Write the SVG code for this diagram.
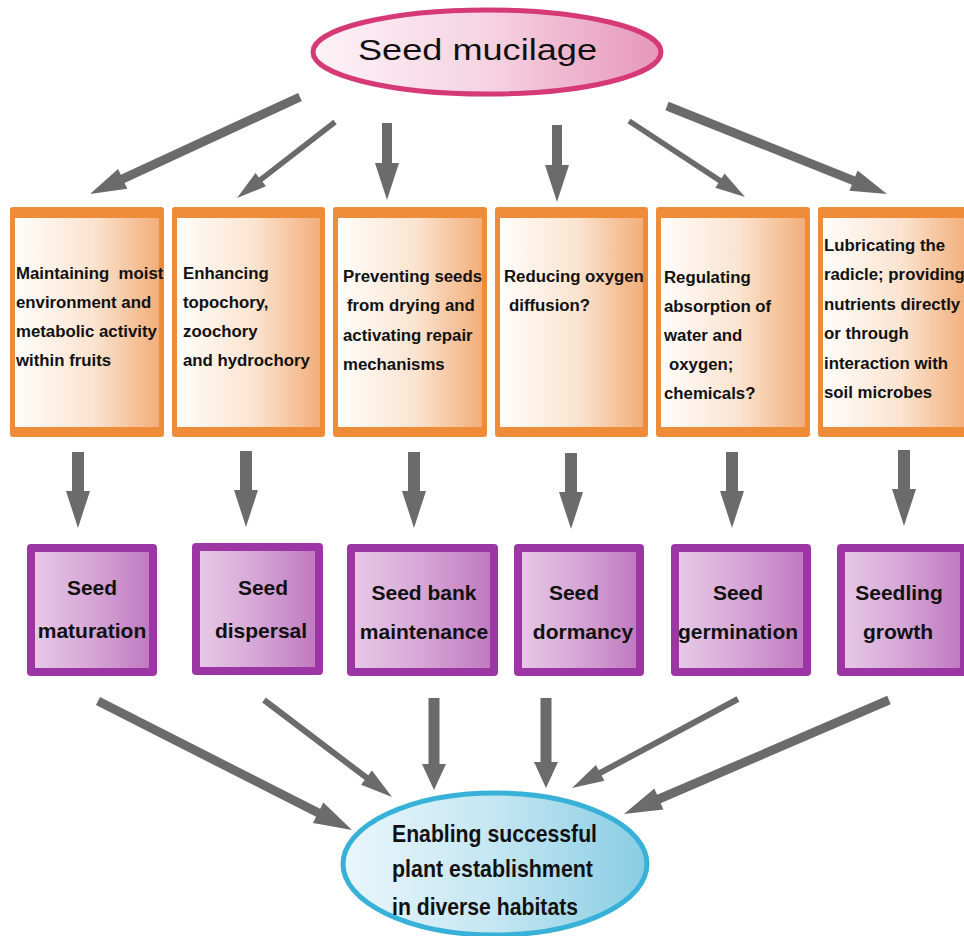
<svg xmlns="http://www.w3.org/2000/svg" width="964" height="936" viewBox="0 0 964 936">
<defs>
<linearGradient id="gPink" x1="0" y1="0" x2="1" y2="0">
<stop offset="0" stop-color="#fdf3f7"/><stop offset="0.5" stop-color="#f6d3e2"/><stop offset="1" stop-color="#e697ba"/>
</linearGradient>
<linearGradient id="gOrange" x1="0" y1="0" x2="1" y2="0">
<stop offset="0" stop-color="#fffdfb"/><stop offset="0.55" stop-color="#fbe3cf"/><stop offset="1" stop-color="#f2ae7a"/>
</linearGradient>
<linearGradient id="gPurple" x1="0" y1="0" x2="1" y2="0">
<stop offset="0" stop-color="#e6c8e6"/><stop offset="0.5" stop-color="#d6a6d6"/><stop offset="1" stop-color="#c07ac0"/>
</linearGradient>
<linearGradient id="gBlue" x1="0" y1="0" x2="1" y2="0">
<stop offset="0" stop-color="#eaf6fb"/><stop offset="0.5" stop-color="#c4e6f2"/><stop offset="1" stop-color="#89cde3"/>
</linearGradient>
</defs>
<style>
.ob{fill:#ee8c3a}
.oi{fill:url(#gOrange)}
.pb{fill:#9c36a4}
.pi{fill:url(#gPurple)}
.ot{font-family:"Liberation Sans",Arial,sans-serif;font-weight:bold;font-size:16.8px;fill:#111;white-space:pre}
.pt{font-family:"Liberation Sans",Arial,sans-serif;font-weight:bold;font-size:21px;fill:#111;text-anchor:middle}
.ar{fill:#6b6b6b}
</style>
<rect width="964" height="936" fill="#ffffff"/>

<g id="connectors">
<path class="ar" d="M0,-4.5 H195.3 V-11 L231.3,0 L195.3,11 V4.5 H0 Z" transform="translate(300,97) rotate(155.21)"/>
<path class="ar" d="M0,-2.8 H94 V-8.5 L124,0 L94,8.5 V2.8 H0 Z" transform="translate(335,122) rotate(142.2)"/>
<path class="ar" d="M0,-5 H40 V-12 L77,0 L40,12 V5 H0 Z" transform="translate(387,123) rotate(90)"/>
<path class="ar" d="M0,-5 H40 V-12 L77,0 L40,12 V5 H0 Z" transform="translate(557,125) rotate(90)"/>
<path class="ar" d="M0,-2.8 H108.7 V-8.5 L138.7,0 L108.7,8.5 V2.8 H0 Z" transform="translate(629,121) rotate(33.23)"/>
<path class="ar" d="M0,-4.5 H200.9 V-11 L236.9,0 L200.9,11 V4.5 H0 Z" transform="translate(667,106) rotate(21.8)"/>

<path class="ar" d="M0,-6 H39 V-12 L76,0 L39,12 V6 H0 Z" transform="translate(78,452) rotate(90)"/>
<path class="ar" d="M0,-6 H39 V-12 L76,0 L39,12 V6 H0 Z" transform="translate(246,451) rotate(90)"/>
<path class="ar" d="M0,-6 H39 V-12 L76,0 L39,12 V6 H0 Z" transform="translate(414,452) rotate(90)"/>
<path class="ar" d="M0,-6 H39 V-12 L76,0 L39,12 V6 H0 Z" transform="translate(571,453) rotate(90)"/>
<path class="ar" d="M0,-6 H39 V-12 L76,0 L39,12 V6 H0 Z" transform="translate(732,452) rotate(90)"/>
<path class="ar" d="M0,-6 H39 V-12 L76,0 L39,12 V6 H0 Z" transform="translate(904,450) rotate(90)"/>

<path class="ar" d="M0,-4.5 H246.9 V-11.5 L284.9,0 L246.9,11.5 V4.5 H0 Z" transform="translate(98,701) rotate(26.93)"/>
<path class="ar" d="M0,-3 H128.6 V-9 L160.6,0 L128.6,9 V3 H0 Z" transform="translate(264,700) rotate(37.16)"/>
<path class="ar" d="M0,-5.5 H66 V-12 L92,0 L66,12 V5.5 H0 Z" transform="translate(434,698) rotate(90)"/>
<path class="ar" d="M0,-5.5 H64 V-12 L90,0 L64,12 V5.5 H0 Z" transform="translate(546,698) rotate(90)"/>
<path class="ar" d="M0,-3 H156.4 V-9 L188.4,0 L156.4,9 V3 H0 Z" transform="translate(738,699) rotate(151.8)"/>
<path class="ar" d="M0,-4.5 H250.5 V-11.5 L288.5,0 L250.5,11.5 V4.5 H0 Z" transform="translate(889,700) rotate(156.72)"/>
</g>

<g id="seed-mucilage">
<ellipse cx="487" cy="52" rx="174" ry="42" fill="url(#gPink)" stroke="#d53a77" stroke-width="5"/>
<text x="358" y="60" font-family="Liberation Sans, Arial, sans-serif" font-size="29" fill="#111" textLength="239" lengthAdjust="spacingAndGlyphs">Seed mucilage</text>
</g>

<g id="f1">
<rect class="ob" x="10" y="207" width="154" height="230" rx="3"/>
<rect class="oi" x="15" y="218" width="144" height="209"/>
<text class="ot" x="16" y="279">Maintaining  moist</text>
<text class="ot" x="16" y="308">environment and</text>
<text class="ot" x="16" y="337">metabolic activity</text>
<text class="ot" x="16" y="366">within fruits</text>
</g>
<g id="f2">
<rect class="ob" x="172" y="207" width="153" height="230" rx="3"/>
<rect class="oi" x="177" y="218" width="143" height="209"/>
<text class="ot" x="183" y="279">Enhancing</text>
<text class="ot" x="183" y="308">topochory,</text>
<text class="ot" x="183" y="337">zoochory</text>
<text class="ot" x="183" y="366">and hydrochory</text>
</g>
<g id="f3">
<rect class="ob" x="333" y="207" width="154" height="230" rx="3"/>
<rect class="oi" x="338" y="218" width="144" height="209"/>
<text class="ot" x="343" y="282">Preventing seeds</text>
<text class="ot" x="347" y="311">from drying and</text>
<text class="ot" x="343" y="341">activating repair</text>
<text class="ot" x="343" y="370">mechanisms</text>
</g>
<g id="f4">
<rect class="ob" x="495" y="207" width="153" height="230" rx="3"/>
<rect class="oi" x="500" y="218" width="143" height="209"/>
<text class="ot" x="504" y="282">Reducing oxygen</text>
<text class="ot" x="509" y="311">diffusion?</text>
</g>
<g id="f5">
<rect class="ob" x="656" y="207" width="154" height="230" rx="3"/>
<rect class="oi" x="661" y="218" width="144" height="209"/>
<text class="ot" x="664" y="283">Regulating</text>
<text class="ot" x="664" y="312">absorption of</text>
<text class="ot" x="664" y="341">water and</text>
<text class="ot" x="669" y="370">oxygen;</text>
<text class="ot" x="664" y="399">chemicals?</text>
</g>
<g id="f6">
<rect class="ob" x="818" y="207" width="154" height="230" rx="3"/>
<rect class="oi" x="823" y="218" width="144" height="209"/>
<text class="ot" x="824" y="251">Lubricating the</text>
<text class="ot" x="824" y="280">radicle; providing</text>
<text class="ot" x="824" y="310">nutrients directly</text>
<text class="ot" x="824" y="339">or through</text>
<text class="ot" x="824" y="369">interaction with</text>
<text class="ot" x="824" y="398">soil microbes</text>
</g>

<g id="s1">
<rect class="pb" x="27" y="544" width="130" height="132" rx="4"/>
<rect class="pi" x="35" y="552" width="114" height="116"/>
<text class="pt" x="92" y="595">Seed</text>
<text class="pt" x="92" y="638">maturation</text>
</g>
<g id="s2">
<rect class="pb" x="192" y="543" width="131" height="132" rx="4"/>
<rect class="pi" x="200" y="551" width="115" height="116"/>
<text class="pt" x="263" y="595">Seed</text>
<text class="pt" x="261" y="638">dispersal</text>
</g>
<g id="s3">
<rect class="pb" x="347" y="544" width="151" height="132" rx="4"/>
<rect class="pi" x="355" y="552" width="135" height="116"/>
<text class="pt" x="424" y="600">Seed bank</text>
<text class="pt" x="424" y="639">maintenance</text>
</g>
<g id="s4">
<rect class="pb" x="514" y="544" width="130" height="132" rx="4"/>
<rect class="pi" x="522" y="552" width="114" height="116"/>
<text class="pt" x="574" y="600">Seed</text>
<text class="pt" x="583" y="639">dormancy</text>
</g>
<g id="s5">
<rect class="pb" x="671" y="544" width="140" height="132" rx="4"/>
<rect class="pi" x="679" y="552" width="124" height="116"/>
<text class="pt" x="738" y="600">Seed</text>
<text class="pt" x="738" y="639">germination</text>
</g>
<g id="s6">
<rect class="pb" x="837" y="544" width="131" height="132" rx="4"/>
<rect class="pi" x="845" y="552" width="115" height="116"/>
<text class="pt" x="899" y="600">Seedling</text>
<text class="pt" x="898" y="639">growth</text>
</g>

<g id="establishment">
<ellipse cx="495" cy="864" rx="152" ry="71" fill="url(#gBlue)" stroke="#37b1d8" stroke-width="5"/>
<text x="392" y="842" font-family="Liberation Sans, Arial, sans-serif" font-weight="bold" font-size="24" fill="#111" textLength="205" lengthAdjust="spacingAndGlyphs">Enabling successful</text>
<text x="392" y="877" font-family="Liberation Sans, Arial, sans-serif" font-weight="bold" font-size="24" fill="#111" textLength="201" lengthAdjust="spacingAndGlyphs">plant establishment</text>
<text x="392" y="915" font-family="Liberation Sans, Arial, sans-serif" font-weight="bold" font-size="24" fill="#111" textLength="186" lengthAdjust="spacingAndGlyphs">in diverse habitats</text>
</g>
</svg>
